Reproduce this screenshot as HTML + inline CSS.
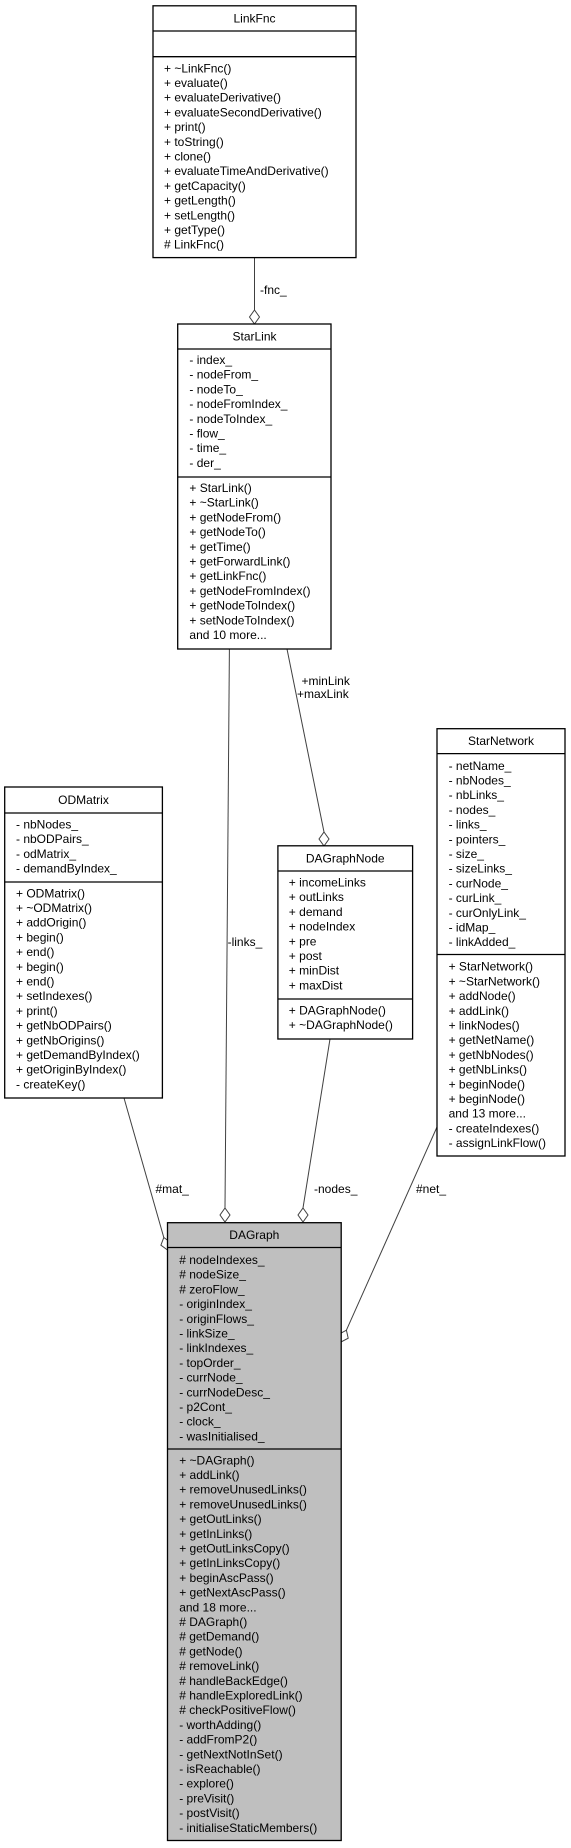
<!DOCTYPE html>
<html><head><meta charset="utf-8"><style>
html,body{margin:0;padding:0;background:#fff}
svg{display:block}
text{font-family:"Liberation Sans",sans-serif;font-size:12px;fill:#000;dominant-baseline:central}
.b{fill:#fff;stroke:#000;stroke-width:1.3}
.g{fill:#bfbfbf;stroke:#000;stroke-width:1.3}
.s{stroke:#000;stroke-width:1.3}
.l{stroke:#404040;stroke-width:1;fill:none}
.d{fill:#fff;stroke:#404040;stroke-width:1}
</style></head><body>
<svg width="571" height="1848" viewBox="0 0 571 1848" xmlns="http://www.w3.org/2000/svg">
<!-- connectors -->
<line class="l" x1="254.5" y1="257.6" x2="254.5" y2="310"/>
<polygon class="d" points="254.5,310 259.5,317 254.5,324 249.5,317"/>
<text x="260" y="290">-fnc_</text>

<line class="l" x1="229.4" y1="649" x2="225" y2="1208"/>
<polygon class="d" points="225,1208 230,1215 225,1222 220,1215"/>
<text x="227.6" y="942">-links_</text>

<line class="l" x1="287" y1="649" x2="324" y2="832"/>
<polygon class="d" points="324,832 329,839 324,846 319,839"/>
<text x="301.5" y="681">+minLink</text>
<text x="297" y="694">+maxLink</text>

<line class="l" x1="330" y1="1039" x2="303" y2="1208"/>
<polygon class="d" points="303,1208 308,1215 303,1222 298,1215"/>
<text x="314" y="1189">-nodes_</text>

<line class="l" x1="124" y1="1098" x2="163.8" y2="1237.5"/>
<polygon class="d" points="163.8,1237.5 170.5,1242.4 167.5,1250 160.9,1245.2"/>
<text x="155.5" y="1189">#mat_</text>

<line class="l" x1="437" y1="1127" x2="346.4" y2="1330.2"/>
<polygon class="d" points="346.4,1330.2 348.2,1338.2 341,1342 339.2,1334"/>
<text x="416" y="1189">#net_</text>

<!-- LinkFnc -->
<rect class="b" x="153" y="5.8" width="203" height="251.8"/>
<line class="s" x1="153" y1="31" x2="356" y2="31"/>
<line class="s" x1="153" y1="56.7" x2="356" y2="56.7"/>
<text x="254.5" y="18.5" text-anchor="middle">LinkFnc</text>
<g>
<text x="164" y="68.3">+ ~LinkFnc()</text>
<text x="164" y="83">+ evaluate()</text>
<text x="164" y="97.7">+ evaluateDerivative()</text>
<text x="164" y="112.4">+ evaluateSecondDerivative()</text>
<text x="164" y="127.1">+ print()</text>
<text x="164" y="141.8">+ toString()</text>
<text x="164" y="156.5">+ clone()</text>
<text x="164" y="171.2">+ evaluateTimeAndDerivative()</text>
<text x="164" y="185.9">+ getCapacity()</text>
<text x="164" y="200.6">+ getLength()</text>
<text x="164" y="215.3">+ setLength()</text>
<text x="164" y="230">+ getType()</text>
<text x="164" y="244.7"># LinkFnc()</text>
</g>

<!-- StarLink -->
<rect class="b" x="177.7" y="324" width="153.3" height="325"/>
<line class="s" x1="177.7" y1="349" x2="331" y2="349"/>
<line class="s" x1="177.7" y1="477" x2="331" y2="477"/>
<text x="254.5" y="336.5" text-anchor="middle">StarLink</text>
<text x="189.4" y="360">- index_</text>
<text x="189.4" y="374.7">- nodeFrom_</text>
<text x="189.4" y="389.4">- nodeTo_</text>
<text x="189.4" y="404.1">- nodeFromIndex_</text>
<text x="189.4" y="418.8">- nodeToIndex_</text>
<text x="189.4" y="433.5">- flow_</text>
<text x="189.4" y="448.2">- time_</text>
<text x="189.4" y="462.9">- der_</text>
<text x="189.4" y="488">+ StarLink()</text>
<text x="189.4" y="502.7">+ ~StarLink()</text>
<text x="189.4" y="517.4">+ getNodeFrom()</text>
<text x="189.4" y="532.1">+ getNodeTo()</text>
<text x="189.4" y="546.8">+ getTime()</text>
<text x="189.4" y="561.5">+ getForwardLink()</text>
<text x="189.4" y="576.2">+ getLinkFnc()</text>
<text x="189.4" y="590.9">+ getNodeFromIndex()</text>
<text x="189.4" y="605.6">+ getNodeToIndex()</text>
<text x="189.4" y="620.3">+ setNodeToIndex()</text>
<text x="189.4" y="635">and 10 more...</text>

<!-- ODMatrix -->
<rect class="b" x="4.7" y="787" width="157.7" height="311"/>
<line class="s" x1="4.7" y1="813" x2="162.4" y2="813"/>
<line class="s" x1="4.7" y1="882" x2="162.4" y2="882"/>
<text x="83.5" y="800" text-anchor="middle">ODMatrix</text>
<text x="16" y="824.4">- nbNodes_</text>
<text x="16" y="839.1">- nbODPairs_</text>
<text x="16" y="853.8">- odMatrix_</text>
<text x="16" y="868.5">- demandByIndex_</text>
<text x="16" y="893.3">+ ODMatrix()</text>
<text x="16" y="908">+ ~ODMatrix()</text>
<text x="16" y="922.7">+ addOrigin()</text>
<text x="16" y="937.4">+ begin()</text>
<text x="16" y="952.1">+ end()</text>
<text x="16" y="966.8">+ begin()</text>
<text x="16" y="981.5">+ end()</text>
<text x="16" y="996.2">+ setIndexes()</text>
<text x="16" y="1010.9">+ print()</text>
<text x="16" y="1025.6">+ getNbODPairs()</text>
<text x="16" y="1040.3">+ getNbOrigins()</text>
<text x="16" y="1055">+ getDemandByIndex()</text>
<text x="16" y="1069.7">+ getOriginByIndex()</text>
<text x="16" y="1084.4">- createKey()</text>

<!-- DAGraphNode -->
<rect class="b" x="277.9" y="845.8" width="134.7" height="193.2"/>
<line class="s" x1="277.9" y1="871" x2="412.6" y2="871"/>
<line class="s" x1="277.9" y1="999" x2="412.6" y2="999"/>
<text x="345.2" y="858.4" text-anchor="middle">DAGraphNode</text>
<text x="288.8" y="882.5">+ incomeLinks</text>
<text x="288.8" y="897.2">+ outLinks</text>
<text x="288.8" y="911.9">+ demand</text>
<text x="288.8" y="926.6">+ nodeIndex</text>
<text x="288.8" y="941.3">+ pre</text>
<text x="288.8" y="956">+ post</text>
<text x="288.8" y="970.7">+ minDist</text>
<text x="288.8" y="985.4">+ maxDist</text>
<text x="288.8" y="1010.4">+ DAGraphNode()</text>
<text x="288.8" y="1025.1">+ ~DAGraphNode()</text>

<!-- StarNetwork -->
<rect class="b" x="437" y="728.7" width="128" height="427.3"/>
<line class="s" x1="437" y1="753.6" x2="565" y2="753.6"/>
<line class="s" x1="437" y1="954.5" x2="565" y2="954.5"/>
<text x="501" y="741" text-anchor="middle">StarNetwork</text>
<text x="448.6" y="765.8">- netName_</text>
<text x="448.6" y="780.5">- nbNodes_</text>
<text x="448.6" y="795.2">- nbLinks_</text>
<text x="448.6" y="809.9">- nodes_</text>
<text x="448.6" y="824.6">- links_</text>
<text x="448.6" y="839.3">- pointers_</text>
<text x="448.6" y="854">- size_</text>
<text x="448.6" y="868.7">- sizeLinks_</text>
<text x="448.6" y="883.4">- curNode_</text>
<text x="448.6" y="898.1">- curLink_</text>
<text x="448.6" y="912.8">- curOnlyLink_</text>
<text x="448.6" y="927.5">- idMap_</text>
<text x="448.6" y="942.2">- linkAdded_</text>
<text x="448.6" y="966.7">+ StarNetwork()</text>
<text x="448.6" y="981.4">+ ~StarNetwork()</text>
<text x="448.6" y="996.1">+ addNode()</text>
<text x="448.6" y="1010.8">+ addLink()</text>
<text x="448.6" y="1025.5">+ linkNodes()</text>
<text x="448.6" y="1040.2">+ getNetName()</text>
<text x="448.6" y="1054.9">+ getNbNodes()</text>
<text x="448.6" y="1069.6">+ getNbLinks()</text>
<text x="448.6" y="1084.3">+ beginNode()</text>
<text x="448.6" y="1099">+ beginNode()</text>
<text x="448.6" y="1113.7">and 13 more...</text>
<text x="448.6" y="1128.4">- createIndexes()</text>
<text x="448.6" y="1143.1">- assignLinkFlow()</text>

<!-- DAGraph -->
<rect class="g" x="167.5" y="1222.7" width="173.7" height="617.8"/>
<line class="s" x1="167.5" y1="1247.5" x2="341.2" y2="1247.5"/>
<line class="s" x1="167.5" y1="1449" x2="341.2" y2="1449"/>
<text x="254.3" y="1235" text-anchor="middle">DAGraph</text>
<text x="179.2" y="1260"># nodeIndexes_</text>
<text x="179.2" y="1274.7"># nodeSize_</text>
<text x="179.2" y="1289.4"># zeroFlow_</text>
<text x="179.2" y="1304.1">- originIndex_</text>
<text x="179.2" y="1318.8">- originFlows_</text>
<text x="179.2" y="1333.5">- linkSize_</text>
<text x="179.2" y="1348.2">- linkIndexes_</text>
<text x="179.2" y="1362.9">- topOrder_</text>
<text x="179.2" y="1377.6">- currNode_</text>
<text x="179.2" y="1392.3">- currNodeDesc_</text>
<text x="179.2" y="1407">- p2Cont_</text>
<text x="179.2" y="1421.7">- clock_</text>
<text x="179.2" y="1436.4">- wasInitialised_</text>
<text x="179.2" y="1460.3">+ ~DAGraph()</text>
<text x="179.2" y="1475">+ addLink()</text>
<text x="179.2" y="1489.7">+ removeUnusedLinks()</text>
<text x="179.2" y="1504.4">+ removeUnusedLinks()</text>
<text x="179.2" y="1519.1">+ getOutLinks()</text>
<text x="179.2" y="1533.8">+ getInLinks()</text>
<text x="179.2" y="1548.5">+ getOutLinksCopy()</text>
<text x="179.2" y="1563.2">+ getInLinksCopy()</text>
<text x="179.2" y="1577.9">+ beginAscPass()</text>
<text x="179.2" y="1592.6">+ getNextAscPass()</text>
<text x="179.2" y="1607.3">and 18 more...</text>
<text x="179.2" y="1622"># DAGraph()</text>
<text x="179.2" y="1636.7"># getDemand()</text>
<text x="179.2" y="1651.4"># getNode()</text>
<text x="179.2" y="1666.1"># removeLink()</text>
<text x="179.2" y="1680.8"># handleBackEdge()</text>
<text x="179.2" y="1695.5"># handleExploredLink()</text>
<text x="179.2" y="1710.2"># checkPositiveFlow()</text>
<text x="179.2" y="1724.9">- worthAdding()</text>
<text x="179.2" y="1739.6">- addFromP2()</text>
<text x="179.2" y="1754.3">- getNextNotInSet()</text>
<text x="179.2" y="1769">- isReachable()</text>
<text x="179.2" y="1783.7">- explore()</text>
<text x="179.2" y="1798.4">- preVisit()</text>
<text x="179.2" y="1813.1">- postVisit()</text>
<text x="179.2" y="1827.8">- initialiseStaticMembers()</text>
</svg>
</body></html>
